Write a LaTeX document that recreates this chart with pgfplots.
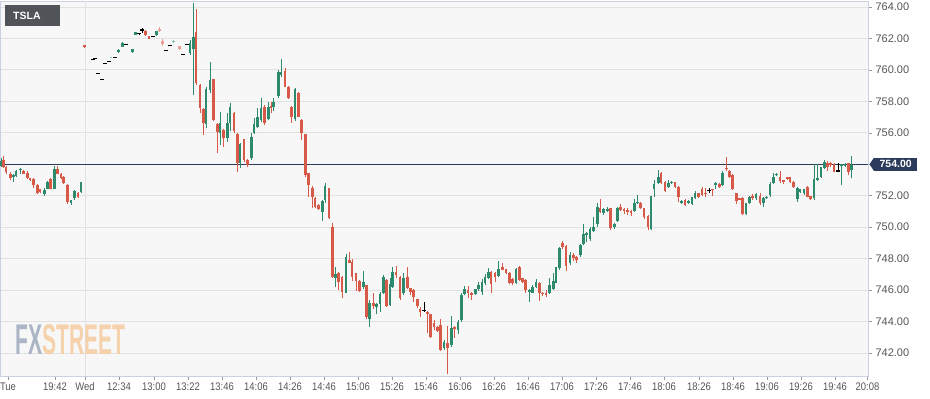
\documentclass[border=0pt]{standalone}
\usepackage{pgfplots}
\pgfplotsset{compat=1.18}
\usepackage{pgfplotstable}
\usepackage{graphicx}
\usepackage{fontspec}
\setmainfont{Liberation Sans}
\newfontfamily\narrowfont[FakeStretch=0.86]{Liberation Sans}

\definecolor{bgc}{HTML}{F7F7F7}
\definecolor{gridc}{HTML}{E2E2E2}
\definecolor{spinec}{HTML}{C9D1E2}
\definecolor{upc}{HTML}{2E8A6D}
\definecolor{dnc}{HTML}{D65A47}
\definecolor{fupc}{HTML}{8CC4B0}
\definecolor{fdnc}{HTML}{EBA296}
\definecolor{navy}{HTML}{2B3B5C}
\definecolor{labc}{HTML}{555555}
\definecolor{tslac}{HTML}{505459}
\definecolor{fxblue}{HTML}{A3AEC0}
\definecolor{fxorange}{HTML}{F5CFA3}

% x = horizontal position, o h l c = open high low close, t = 0 down, 1 up, 2 flat, 3 pale up, 4 pale down
\pgfplotstableread{
x o h l c t
1.0 753.9 754.4 753.85 754.2 1
3.3 754.3 754.5 753.75 753.8 0
6.0 753.85 753.9 753.4 753.5 0
10.7 753.4 753.5 753.0 753.1 0
13.3 753.2 753.35 752.9 753.3 1
16.0 753.25 753.65 753.2 753.6 1
20.7 753.65 753.75 753.4 753.72 1
23.3 753.6 753.65 753.35 753.4 0
27.3 753.45 753.55 753.05 753.15 0
30.0 753.1 753.15 752.95 753.0 0
33.3 753.05 753.1 752.5 752.7 0
37.3 752.7 752.75 752.1 752.2 0
40.0 752.4 752.45 752.15 752.25 0
44.3 752.1 752.5 752.0 752.35 1
47.7 752.4 752.95 752.4 752.9 1
50.3 753.05 753.1 752.4 752.4 0
54.3 752.4 753.9 752.4 753.7 1
57.3 753.7 753.9 753.4 753.4 0
61.0 753.4 753.45 753.05 753.1 0
63.7 753.2 753.25 752.75 752.8 0
67.3 752.7 752.75 751.5 751.6 0
71.0 751.55 751.75 751.4 751.7 1
74.3 751.85 752.35 751.75 752.3 1
78.0 752.2 752.25 751.85 751.9 0
81.0 752.25 752.9 752.2 752.85 1
84.3 761.56 761.6 761.4 761.43 0
92.7 760.61 760.61 760.61 760.61 2
95.3 760.67 760.67 760.67 760.67 2
98.0 759.73 759.73 759.73 759.73 2
102.0 759.35 759.35 759.35 759.35 2
105.0 760.36 760.36 760.36 760.36 2
109.0 760.49 760.49 760.49 760.49 2
111.0 760.76 760.85 760.75 760.82 3
115.0 760.74 760.74 760.74 760.74 2
118.3 761.12 761.3 761.1 761.27 1
122.3 761.48 761.8 761.45 761.73 1
126.0 761.6 761.6 761.6 761.6 2
132.3 761.15 761.32 761.1 761.3 1
135.3 762.25 762.42 762.22 762.4 1
139.0 762.3 762.3 762.2 762.3 2
142.3 762.5 762.65 762.35 762.5 2
145.3 762.5 762.52 762.18 762.2 0
149.0 762.15 762.17 761.98 761.98 0
152.7 762.1 762.1 762.1 762.1 2
156.3 762.2 762.45 762.18 762.45 1
159.3 762.6 762.7 762.43 762.45 4
162.3 761.85 761.95 761.55 761.63 4
166.0 761.18 761.18 761.18 761.18 2
170.0 761.5 761.5 761.5 761.5 2
173.3 761.75 761.88 761.7 761.86 3
179.3 761.5 761.55 761.28 761.32 4
182.7 760.95 760.95 760.95 760.95 2
186.7 761.58 761.58 761.58 761.58 2
190.0 761.06 761.9 760.95 761.69 1
193.3 761.31 764.27 758.4 762.07 1
196.0 762.43 763.9 759.04 759.15 0
200.0 759.04 759.1 757.24 757.56 0
203.3 757.5 757.55 755.86 756.6 0
206.0 756.56 758.93 756.29 758.77 1
210.0 758.72 760.52 758.51 759.36 1
213.3 759.4 759.45 756.75 756.81 0
217.3 756.56 756.6 754.7 756.05 0
220.0 755.97 757.34 755.22 756.6 1
223.3 756.18 756.25 755.12 755.65 0
227.3 755.65 757.24 755.44 756.6 1
230.0 756.6 757.88 756.14 757.66 1
234.0 757.28 757.3 755.97 756.14 0
237.3 755.9 755.97 753.53 754.06 0
240.0 754.06 755.35 753.74 755.29 1
244.0 755.59 755.62 754.15 754.27 0
247.3 754.3 754.35 753.85 753.95 0
251.3 754.38 756.0 754.27 755.72 1
254.0 756.0 756.92 755.95 756.56 1
257.3 756.39 757.56 756.29 756.99 1
261.0 756.81 758.19 756.71 757.56 1
264.3 757.66 757.77 756.5 756.6 0
268.3 756.86 757.98 756.8 757.66 1
271.0 757.7 757.98 757.24 757.56 0
273.7 757.66 758.19 757.4 757.98 1
278.3 758.34 760.0 758.19 759.89 1
281.0 759.68 760.67 759.55 759.89 1
285.0 759.95 760.1 758.9 758.93 0
288.3 758.93 758.95 758.15 758.19 0
291.7 757.62 757.7 756.64 757.03 0
295.0 756.86 758.83 756.77 758.77 1
298.3 758.55 758.6 757.0 757.03 0
301.7 756.81 756.85 755.54 755.97 0
305.7 755.92 755.95 753.2 753.32 0
308.3 753.43 753.45 751.94 752.68 0
312.3 752.47 752.6 751.2 751.94 0
315.0 751.84 751.9 751.2 751.3 0
318.3 751.41 751.45 751.1 751.13 0
322.3 750.98 751.75 750.41 751.68 1
325.0 751.73 752.83 751.56 752.62 1
329.0 752.47 752.5 750.5 750.56 0
332.7 750.03 750.25 746.75 746.85 0
335.3 746.8 747.5 746.2 747.0 1
338.7 747.07 747.17 746.0 746.53 0
342.0 746.85 746.9 745.48 745.9 0
346.0 745.84 748.3 745.8 748.09 1
349.3 747.9 748.44 747.7 747.74 0
352.0 747.8 748.0 746.6 746.85 0
356.0 747.07 747.1 745.96 746.6 0
359.3 746.6 746.65 745.9 745.96 0
363.3 746.18 747.23 746.05 746.53 1
366.7 746.32 746.35 744.14 744.31 0
369.3 744.14 745.37 743.67 745.2 1
373.3 745.16 745.84 744.78 744.99 0
376.7 744.9 745.15 744.48 745.1 1
380.0 745.1 745.9 744.63 745.75 1
383.3 745.84 746.96 745.75 746.81 1
386.7 746.64 746.7 744.95 744.99 0
390.0 745.05 746.75 745.0 746.39 1
392.7 746.22 747.49 746.15 747.17 1
396.0 747.17 747.53 746.75 746.96 0
400.0 746.85 746.9 745.37 745.48 0
403.3 745.8 747.07 745.7 746.75 1
407.3 746.82 747.49 746.05 746.11 0
410.7 746.11 746.15 745.69 745.9 0
413.3 746.0 746.05 745.26 745.54 0
417.3 745.41 745.45 744.84 744.99 0
420.0 744.78 744.94 744.27 744.63 0
424.0 744.69 745.26 744.62 744.69 2
427.3 744.63 744.65 743.25 744.48 0
430.7 744.48 744.5 742.95 743.0 0
434.0 743.89 744.1 743.46 743.63 0
437.3 743.63 743.7 743.35 743.42 0
440.7 743.78 744.14 742.15 742.19 0
444.0 742.3 742.83 742.2 742.72 1
447.3 742.66 743.72 740.65 742.3 0
451.3 742.51 744.35 742.36 743.57 1
454.7 743.63 743.7 742.95 743.5 0
458.0 743.46 744.1 743.2 743.99 1
461.3 744.1 745.8 744.0 745.69 1
464.7 745.75 746.26 745.7 746.05 1
468.0 746.0 746.25 745.48 745.8 0
471.3 745.8 745.85 745.4 745.69 0
475.3 745.75 746.1 745.7 746.05 1
478.7 746.05 746.53 745.95 746.32 1
482.0 745.88 746.69 745.7 746.53 1
485.0 746.47 747.02 746.3 746.85 1
488.4 746.75 747.39 746.7 747.17 1
491.0 747.17 747.2 745.84 746.39 0
495.0 747.11 747.15 746.5 746.85 0
498.3 746.9 747.87 746.85 747.32 1
502.7 747.45 747.7 747.25 747.28 0
506.0 747.32 747.35 747.0 747.11 0
509.5 747.11 747.15 746.4 746.47 0
512.8 746.69 746.75 746.35 746.47 0
516.0 746.47 747.4 746.4 747.32 1
519.3 747.45 747.53 746.55 746.64 0
522.3 746.75 746.8 746.45 746.53 0
525.3 746.64 746.7 745.84 746.0 0
529.3 745.89 746.05 745.26 746.0 1
532.7 745.84 746.3 745.8 746.22 1
536.0 746.22 746.69 746.15 746.53 1
539.3 746.43 746.5 745.33 745.84 0
542.7 745.84 745.9 745.6 745.75 0
546.0 745.84 746.0 745.55 745.69 0
549.3 745.8 746.75 745.75 746.32 1
553.3 746.1 747.07 746.0 746.6 1
556.0 746.47 747.5 746.43 747.45 1
559.3 747.39 748.72 747.3 748.66 1
562.7 748.98 749.14 748.6 748.72 0
566.0 748.8 748.85 747.23 747.53 0
570.0 747.74 748.45 747.6 748.23 1
573.3 748.23 748.35 747.85 748.02 0
576.7 748.12 748.15 747.75 747.92 0
580.7 748.23 748.95 748.1 748.87 1
583.3 748.93 750.2 748.85 749.56 1
586.7 749.5 749.7 749.05 749.64 1
590.0 749.22 750.0 749.15 749.86 1
593.3 749.78 750.63 749.7 750.03 1
597.3 750.2 751.52 750.03 751.26 1
600.0 751.2 751.77 750.9 750.98 0
603.3 750.92 751.2 750.75 751.14 1
607.3 751.05 751.3 750.95 751.1 1
610.7 751.2 751.25 749.85 749.93 0
614.3 749.99 750.25 749.9 750.2 1
617.7 750.41 751.3 750.35 751.2 1
620.7 751.3 751.45 751.0 751.09 0
624.0 751.14 751.2 750.85 751.05 0
627.3 751.1 751.25 750.8 750.98 0
631.0 751.05 751.1 750.7 750.92 0
634.3 751.05 751.77 750.98 751.52 1
637.3 751.52 752.05 751.45 751.6 1
640.7 751.56 751.6 751.15 751.2 0
644.0 751.2 751.25 750.55 750.63 0
648.0 750.7 750.75 749.82 749.99 0
651.0 749.86 752.0 749.82 751.98 1
654.0 752.41 753.0 751.9 752.75 1
658.3 752.83 753.64 752.75 753.17 1
661.0 753.43 753.5 752.75 752.83 0
665.0 752.9 752.95 752.25 752.32 0
668.3 752.58 753.0 752.5 752.79 1
671.3 752.8 752.95 752.75 752.9 1
675.0 752.85 752.9 752.5 752.54 0
678.3 752.58 752.62 751.62 751.9 0
681.3 751.56 751.75 751.5 751.66 1
685.0 751.73 751.78 751.35 751.41 0
688.3 751.56 751.7 751.5 751.66 1
692.0 751.47 751.95 751.4 751.9 1
695.0 751.84 752.3 751.8 752.15 1
698.3 752.15 752.2 751.85 751.94 0
702.0 752.41 752.55 752.0 752.05 0
705.3 752.2 752.5 751.9 752.1 0
709.0 752.32 752.5 752.2 752.32 2
712.3 752.4 752.45 752.0 752.35 0
715.7 752.7 752.9 752.45 752.8 1
719.3 752.75 752.8 752.5 752.58 0
722.3 752.68 753.55 752.6 753.47 1
726.7 753.75 754.45 753.6 753.68 0
729.3 753.6 753.65 753.15 753.22 0
732.7 753.32 753.35 752.35 752.41 0
736.7 752.15 752.2 751.5 751.68 0
739.8 751.8 751.85 751.7 751.75 0
742.7 751.84 751.9 750.75 750.84 0
746.0 750.84 751.55 750.8 751.52 1
749.3 751.52 752.0 751.45 751.94 1
752.7 752.0 752.1 751.75 751.84 0
756.0 751.84 752.2 751.75 752.11 1
760.0 751.98 752.2 751.4 751.56 0
763.3 751.52 751.9 751.3 751.84 1
766.7 751.85 752.0 751.8 751.95 1
770.0 752.05 752.85 751.95 752.75 1
773.3 752.83 753.47 752.75 753.22 1
776.7 753.3 753.45 753.25 753.4 1
780.0 753.22 753.55 752.8 752.96 0
783.3 752.95 753.0 752.75 752.9 0
787.3 753.17 753.2 753.0 753.05 0
790.0 753.17 753.2 752.8 752.9 0
793.3 752.9 752.95 752.5 752.54 0
797.3 751.77 752.55 751.6 752.47 1
800.0 752.26 752.45 752.2 752.41 1
804.0 752.15 752.45 752.05 752.41 1
807.3 752.58 752.6 751.9 751.94 0
810.7 751.98 752.0 751.7 751.77 0
814.0 751.84 754.02 751.75 753.04 1
817.3 753.0 754.0 752.95 753.1 1
821.0 753.22 753.85 753.15 753.81 1
824.3 753.75 754.3 753.7 754.17 1
827.3 754.1 754.2 753.6 753.85 0
830.7 754.05 754.15 753.85 753.95 0
834.0 754.02 754.1 753.5 753.53 0
838.3 753.53 754.05 753.5 753.53 2
841.7 753.9 754.0 752.68 754.0 1
845.0 753.9 754.05 753.85 754.0 1
848.3 754.06 754.1 753.3 753.53 0
851.7 753.64 754.51 753.11 753.96 1
}\candles

% wick: vertical segment from low to high; body: vertical segment from min(open,close) of height |close-open|
\newcommand{\wicks}[3]{\addplot[forget plot, draw=#1, line width=1pt,
  restrict expr to domain={\thisrow{t}}{#2:#3},
  quiver={u=0, v={\thisrow{h}-\thisrow{l}}}]
  table[x=x, y=l]{\candles};}
\newcommand{\bodies}[4]{\addplot[forget plot, draw=#1, line width=#4,
  restrict expr to domain={\thisrow{t}}{#2:#3},
  quiver={u=0, v={max(abs(\thisrow{c}-\thisrow{o}),0.075)}}]
  table[x=x, y expr={min(\thisrow{o},\thisrow{c})}]{\candles};}

\begin{document}
\begin{tikzpicture}
\useasboundingbox (0pt,-23pt) rectangle (930pt,376pt);
\begin{axis}[
  at={(0pt,0pt)}, anchor=south west,
  scale only axis, width=868pt, height=375pt,
  xmin=0, xmax=868, ymin=740.54, ymax=764.38,
  clip=false,
  axis background/.style={fill=bgc},
  axis line style={draw=spinec, line width=0.8pt},
  ymajorgrids, major grid style={draw=gridc, line width=0.8pt},
  ytick={742,744,746,748,750,752,754,756,758,760,762,764},
  yticklabels={742.00,744.00,746.00,748.00,750.00,752.00,{},756.00,758.00,760.00,762.00,764.00},
  ytick pos=right, yticklabel pos=right,
  xtick pos=bottom,
  tick align=outside, major tick length=4pt,
  tick style={draw=labc!60, line width=0.6pt},
  xtick={8,55,85,119,154,188,222,256,290,324,358,392,426,460,494,528,562,596,630,664,699,733,767,801,835,867.5},
  xticklabels={Tue,19:42,Wed,12:34,13:00,13:22,13:46,14:06,14:26,14:46,15:06,15:26,15:46,16:06,16:26,16:46,17:06,17:26,17:46,18:06,18:26,18:46,19:06,19:26,19:46,20:08},
  xticklabel style={font=\narrowfont\fontsize{11}{12}\selectfont, text=labc, yshift=1pt},
  yticklabel style={font=\fontsize{11}{12}\selectfont, text=labc, anchor=west},
  extra x ticks={85},
  extra x tick labels={},
  extra x tick style={grid=major, major tick length=0pt},
]
\addplot[navy, line width=0.9pt, forget plot] coordinates {(0,754) (868,754)};
% wicks
\wicks{dnc}{-0.5}{0.5}
\wicks{upc}{0.5}{1.5}
\wicks{black}{1.5}{2.5}
\wicks{fupc}{2.5}{3.5}
\wicks{fdnc}{3.5}{4.5}
% bodies
\bodies{dnc}{-0.5}{0.5}{2.8pt}
\bodies{upc}{0.5}{1.5}{2.8pt}
\bodies{black}{1.5}{2.5}{4pt}
\bodies{fupc}{2.5}{3.5}{2.8pt}
\bodies{fdnc}{3.5}{4.5}{2.8pt}
\node[fill=navy, text=white, font=\bfseries\fontsize{10.5}{12}\selectfont, anchor=west, inner sep=0pt, minimum height=13pt, minimum width=43pt] (pl) at (axis cs:868,754) [xshift=6pt] {754.00};
\fill[navy] (pl.north west) -- ([xshift=-4.5pt]pl.west) -- (pl.south west) -- cycle;
\end{axis}
\node[fill=tslac, text=white, anchor=north west, inner sep=0pt, minimum width=55pt, minimum height=21pt] at (5pt,371pt) {};
\node[text=white, anchor=west, font=\bfseries\fontsize{10.5}{12}\selectfont, inner sep=0pt] at (13pt,360.5pt) {TSLA};
\node[anchor=south west, inner sep=0pt, opacity=0.9] at (15pt,21pt) {\resizebox{110pt}{30pt}{\bfseries{\color{fxblue}FX}{\color{fxorange}STREET}}};
\end{tikzpicture}
\end{document}
